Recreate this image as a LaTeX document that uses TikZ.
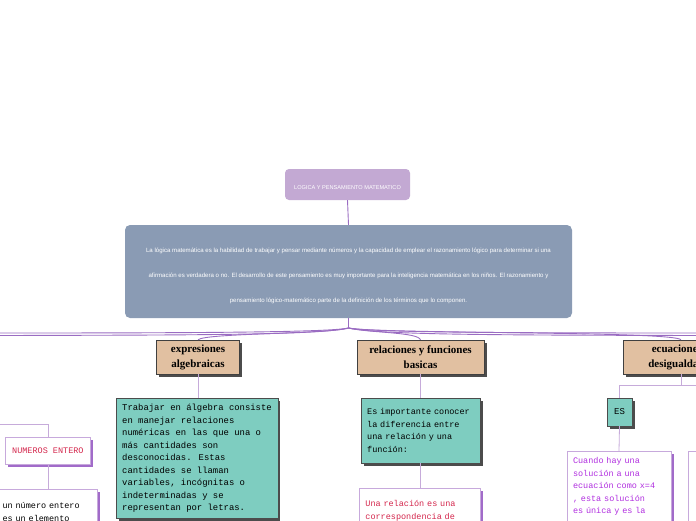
\documentclass[tikz,border=0pt]{standalone}
\usepackage{fontspec}
\newfontfamily\sansfont{Liberation Sans}
\newfontfamily\monofont{Liberation Mono}
\newfontfamily\topicfont{Liberation Serif}
\usepackage{xcolor}
\usetikzlibrary{calc,shapes,shadows,positioning}

\definecolor{titlefill}{HTML}{C3A9D3}
\definecolor{summaryfill}{HTML}{8A9BB4}
\definecolor{tanfill}{HTML}{E1C0A1}
\definecolor{tealfill}{HTML}{7ECDC0}
\definecolor{hubpurple}{HTML}{9A6CC2}
\definecolor{linkpurple}{HTML}{C6ABDA}
\definecolor{boxpurple}{HTML}{C7A9DC}
\definecolor{shadowpurple}{HTML}{A16BC9}
\definecolor{notered}{HTML}{D4264C}
\definecolor{noteviolet}{HTML}{B12FE0}

\begin{document}
\begin{tikzpicture}[x=1pt,y=-1pt,
  toplink/.style={draw=hubpurple, line width=0.9pt},
  link/.style={draw=linkpurple, line width=0.8pt},
  topic/.style={draw=black!75, fill=tanfill, inner sep=0pt, align=center,
    font=\topicfont\bfseries\fontsize{11}{15}\selectfont,
    drop shadow={shadow xshift=2.5pt, shadow yshift=-2.5pt, fill=black!70, opacity=1}},
  tealbox/.style={draw=black!70, fill=tealfill, inner xsep=6pt, inner ysep=6pt, align=left,
    font=\monofont\fontsize{8.5}{12.5}\selectfont,
    drop shadow={shadow xshift=2.5pt, shadow yshift=-2.5pt, fill=black!70, opacity=1}},
  whitebox/.style={draw=boxpurple, fill=white, line width=0.8pt, inner xsep=6pt, inner ysep=6pt,
    align=left, font=\monofont\fontsize{8.5}{12.5}\selectfont,
    drop shadow={shadow xshift=2.5pt, shadow yshift=-2.5pt, fill=shadowpurple, opacity=1}}]

  \useasboundingbox (0,0) rectangle (696,520);
  \clip (0,0) rectangle (696,520);

  % top of the map
  \node[fill=titlefill, rounded corners=4pt, minimum width=125pt, minimum height=31pt,
    text=white, font=\sansfont\fontsize{5.6}{6}\selectfont] (title) at (347.5,184.5)
    {\rule{0pt}{10pt}LOGICA Y PENSAMIENTO MATEMATICO};
  \node[fill=summaryfill, rounded corners=5pt, minimum width=447pt, minimum height=93pt,
    text=white, align=center, font=\sansfont\fontsize{6.1}{25}\selectfont] (summary) at (348.5,271.5)
    {\rule{0pt}{14pt}La lógica matemática es la habilidad de trabajar y pensar mediante números y la capacidad de emplear el razonamiento lógico para determinar si una\\
     afirmación es verdadera o no. El desarrollo de este pensamiento es muy importante para la inteligencia matemática en los niños. El razonamiento y\\
     pensamiento lógico-matemático parte de la definición de los términos que lo componen.};
  \draw[toplink] (title.south) -- (summary.north);
  \coordinate (hub) at (348.5,328);
  \draw[toplink] (summary.south) -- (hub);

  % main branches
  \node[topic, minimum width=83pt, minimum height=34pt] (expr) at (198,357) {expresiones\\algebraicas};
  \node[topic, minimum width=127pt, minimum height=34pt] (rel) at (420.5,357) {relaciones y funciones\\basicas};
  \node[topic, minimum width=116pt, minimum height=34pt] (ecu) at (681,357) {ecuaciones y\\desigualdades};

  \coordinate (westA) at (0,333);
  \coordinate (westB) at (0,335.5);
  \coordinate (eastA) at (696,333);
  \coordinate (eastB) at (696,335.5);
  \draw[toplink] (hub) .. controls (330,332) and (220,333) .. (westA);
  \draw[toplink] (hub) .. controls (320,335) and (200,335) .. (westB);
  \draw[toplink] (hub) .. controls (330,334) and (205,333) .. (expr.north);
  \draw[toplink] (hub) .. controls (370,333) and (418,332) .. (rel.north);
  \draw[toplink] (hub) .. controls (370,332) and (480,333) .. (eastA);
  \draw[toplink] (hub) .. controls (380,335) and (500,335) .. (eastB);
  \draw[toplink] (hub) .. controls (380,334) and (675,331) .. (ecu.north);

  % expresiones algebraicas
  \node[tealbox, anchor=north west, font=\monofont\fontsize{8.9}{12.5}\selectfont] (exprtext) at (116,398)
    {Trabajar en álgebra consiste\\en manejar relaciones\\numéricas en las que una o\\más cantidades son\\desconocidas. Estas\\cantidades se llaman\\variables, incógnitas o\\indeterminadas y se\\representan por letras.};
  \draw[link] (expr.south) -- (exprtext.north -| expr.south);

  % relaciones y funciones
  \node[tealbox, anchor=north west, minimum height=65pt, text width=107pt] (reltext) at (361,398)
    {Es importante conocer\\la diferencia entre\\una relación y una\\función:};
  \node[whitebox, anchor=north west, text=notered, text width=109pt, minimum height=45pt] (reldef) at (359,488)
    {Una relación es una\\correspondencia de};
  \draw[link] (rel.south) -- (reltext.north -| rel.south);
  \draw[link] (reltext.south -| rel.south) -- (reldef.north -| rel.south);

  % ecuaciones y desigualdades
  \node[tealbox, minimum width=25pt, minimum height=28pt, inner sep=0pt, align=center,
    font=\monofont\fontsize{9}{10}\selectfont] (es) at (619.5,412) {ES};
  \node[whitebox, anchor=north, text=noteviolet, text width=92pt] (estext) at (619,451)
    {Cuando hay una\\solución a una\\ecuación como x=4\\ , esta solución\\es única y es la};
  \node[whitebox, anchor=north west, minimum width=100pt, minimum height=80pt] (estext2) at (688,451) {};
  \coordinate (ecuknee) at (681,385.5);
  \coordinate (ecuwest) at (619.5,385.5);
  \coordinate (ecueast) at (696,385.5);
  \draw[link] (ecu.south) -- (ecuknee);
  \draw[link] (ecueast) -- (ecuwest) -- (es.north);
  \draw[link] (es.south) -- (estext.north);

  % numeros enteros
  \node[whitebox, anchor=north west, text=notered, minimum width=85pt, minimum height=27pt,
    inner sep=0pt, align=center] (nums) at (5,437) {NUMEROS ENTERO};
  \node[whitebox, anchor=north east, text=black, text width=89pt, minimum height=45pt] (numstext) at (98,489)
    {un número entero\\es un elemento};
  \coordinate (numswest) at (0,424);
  \draw[link] (numswest) -| (nums.north);
  \draw[link] (nums.south) -- (numstext.north -| nums.south);

\end{tikzpicture}
\end{document}
